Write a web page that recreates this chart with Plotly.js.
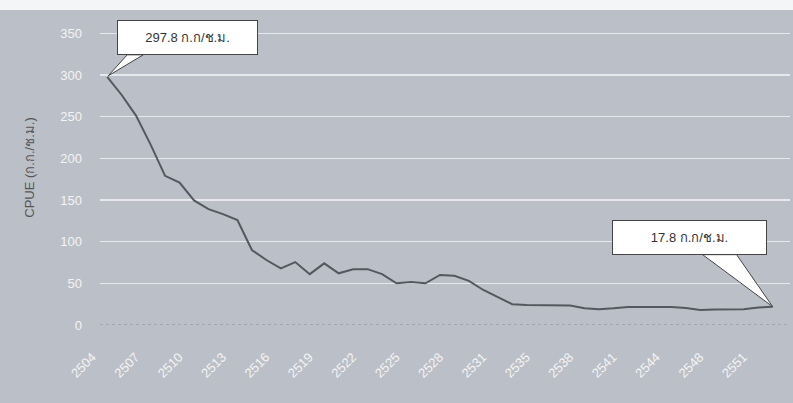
<!DOCTYPE html>
<html>
<head>
<meta charset="utf-8">
<script src="https://cdn.plot.ly/plotly-3.0.1.min.js"></script>
<style>html,body{margin:0;padding:0;background:#bbbfc7;}#chart{width:793px;height:403px;}</style>
</head>
<body>
<div id="chart"></div>
<script>
// Categories (Thai Buddhist-era years); two years are absent from the series
const years = ["2504","2505","2506","2507","2508","2509","2510","2511","2512","2513",
  "2514","2515","2516","2517","2518","2519","2520","2521","2522","2523",
  "2524","2525","2526","2527","2528","2529","2530","2531","2532","2534",
  "2535","2536","2537","2538","2539","2540","2541","2542","2543","2544",
  "2545","2547","2548","2549","2550","2551","2552"];
// CPUE (kg/hr)
const cpue = [297.8,276,251,216.5,179,171,149.5,139,133,126,
  90,78,68,75.5,61,74,62,67,67,61,
  50,51.5,50,60,59,53,42,33.5,25,24,
  24,24,23.4,20,19,20,21.6,21.6,21.6,21.6,
  20.4,18,18.6,18.6,19,21,22];
// Tick labels shown on the category axis
const tickYears = ["2504","2507","2510","2513","2516","2519","2522","2525","2528","2531",
  "2535","2538","2541","2544","2548","2551"];
const yTicks = [0,50,100,150,200,250,300,350];
const firstLabel = "297.8 ก.ก/ช.ม.";
const lastLabel = "17.8 ก.ก/ช.ม.";

const iFirst = 0, iLast = years.length - 1;

const trace = {
  x: years, y: cpue, type: "scatter", mode: "lines",
  line: {color: "#55585e", width: 2},
  hoverinfo: "x+y"
};

const layout = {
  width: 793, height: 403,
  margin: {l: 100, r: 3, t: 10, b: 78},
  paper_bgcolor: "#bbbfc7",
  plot_bgcolor: "#bbbfc7",
  showlegend: false,
  font: {family: "Liberation Sans, Arial, sans-serif"},
  xaxis: {
    type: "category",
    range: [-0.5, years.length + 0.2],
    tickmode: "array", tickvals: tickYears, ticktext: tickYears,
    tickangle: -45,
    tickfont: {size: 13, color: "#f4f4f4"},
    ticklabelstandoff: 21,
    ticklabelshift: -15,
    showgrid: false, zeroline: false, showline: false, ticks: ""
  },
  yaxis: {
    range: [0, 378],
    tickmode: "array", tickvals: yTicks,
    tickfont: {size: 13, color: "#f4f4f4"},
    ticklabelstandoff: 17,
    showgrid: true, gridcolor: "#e6e8ec", gridwidth: 1.5,
    zeroline: false, showline: false, ticks: "",
    title: {text: "CPUE (ก.ก./ช.ม.)", font: {size: 13, color: "#555"}, standoff: 22}
  },
  shapes: [
    {type: "line", xref: "paper", yref: "y", x0: 0, x1: 1, y0: 0, y1: 0,
     line: {color: "#8a8d93", width: 1, dash: "dot"}},
    {type: "rect", xref: "paper", yref: "paper", x0: -0.2, x1: 1.1, y0: 1.0, y1: 1.2,
     fillcolor: "#f4f5f7", line: {width: 0}, layer: "below"},
    // callout pointers (pixel-sized, anchored at the labelled points)
    {type: "path", xref: "x", yref: "y", xsizemode: "pixel", ysizemode: "pixel",
     xanchor: iFirst, yanchor: cpue[iFirst],
     path: "M 1 1 L 20 22 L 36 22 Z",
     fillcolor: "#ffffff", line: {color: "#444444", width: 1}},
    {type: "path", xref: "x", yref: "y", xsizemode: "pixel", ysizemode: "pixel",
     xanchor: iLast, yanchor: cpue[iLast],
     path: "M 0 0 L -70 52 L -36 52 Z",
     fillcolor: "#ffffff", line: {color: "#444444", width: 1}}
  ],
  annotations: [
    {x: iFirst, y: cpue[iFirst], xref: "x", yref: "y",
     text: firstLabel, showarrow: false, xshift: 80, yshift: 39,
     width: 125, height: 19,
     bgcolor: "#ffffff", bordercolor: "#444444", borderwidth: 1, borderpad: 7,
     font: {size: 13, color: "#333333"}},
    {x: iLast, y: cpue[iLast], xref: "x", yref: "y",
     text: lastLabel, showarrow: false, xshift: -83, yshift: 69,
     width: 139, height: 19,
     bgcolor: "#ffffff", bordercolor: "#444444", borderwidth: 1, borderpad: 7,
     font: {size: 13, color: "#333333"}}
  ]
};

Plotly.newPlot("chart", [trace], layout, {displayModeBar: false, staticPlot: true});
</script>
</body>
</html>
